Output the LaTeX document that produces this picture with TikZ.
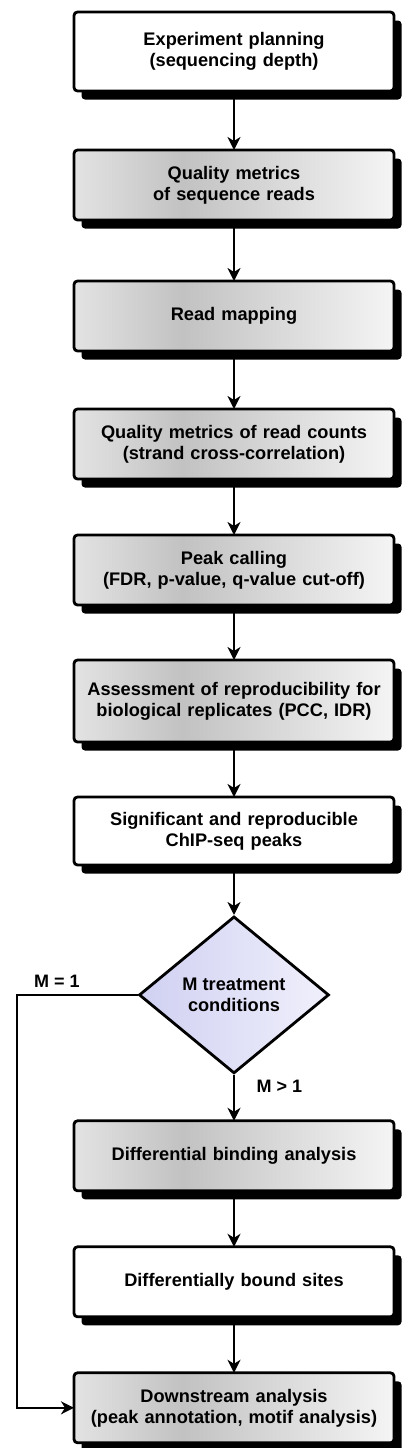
\documentclass[tikz,border=0pt]{standalone}
\usepackage{fontspec}
\setmainfont{Liberation Sans}
\usetikzlibrary{positioning,shapes.geometric,shadows,arrows.meta}

\definecolor{diamondleft}{RGB}{208,208,242}
\definecolor{diamondmid}{RGB}{186,186,244}
\definecolor{diamondright}{RGB}{240,240,252}
\pgfdeclarehorizontalshading{stepshade}{100bp}{%
  color(0bp)=(black!11); color(25bp)=(black!11);
  color(42bp)=(black!24); color(75bp)=(black!4); color(100bp)=(black!4)}

\begin{document}
\begin{tikzpicture}[
  x=1pt, y=1pt,
  node distance=57pt,
  stepbox/.style={
    rectangle,
    rounded corners=3.5pt,
    line width=2.8pt,
    draw=black,
    text width=310pt,
    minimum width=320pt,
    minimum height=70pt,
    inner sep=3pt,
    outer sep=0pt,
    text centered,
    font=\bfseries\fontsize{18.2}{21}\selectfont,
    drop shadow={shadow xshift=7.5pt, shadow yshift=-8.5pt, opacity=1, fill=black}
  },
  plainbox/.style ={stepbox, fill=white},
  shadedbox/.style={stepbox, shading=stepshade},
  decision/.style={
    diamond,
    line width=2.8pt,
    draw=black,
    aspect=1.2,
    inner sep=0pt,
    minimum width=190pt,
    minimum height=157pt,
    align=center,
    left color=diamondleft,
    middle color=diamondmid,
    right color=diamondright,
    font=\bfseries\fontsize{18.2}{21}\selectfont
  },
  flow/.style={line width=2.4pt, -{Stealth[length=13pt,width=13pt,inset=4pt]}},
  cond/.style={font=\bfseries\fontsize{18}{21}\selectfont}]
  \useasboundingbox (0,0) rectangle (410,-1448);
  % main column
  \node[plainbox, minimum height=79pt] (planning) at (234,-51.5) {Experiment planning\\(sequencing depth)};
  \node[shadedbox] (seqreads) [below=59pt of planning] {Quality metrics\\of sequence reads};
  \node[shadedbox] (mapping) [below=61pt of seqreads] {Read mapping};
  \node[shadedbox] (readcounts) [below=58pt of mapping] {Quality metrics of read counts\\(strand cross-correlation)};
  \node[shadedbox] (peakcall) [below=56pt of readcounts] {Peak calling\\(FDR, p-value, q-value cut-off)};
  \node[shadedbox, minimum height=82pt] (reprod) [below=55pt of peakcall] {Assessment of reproducibility for\\biological replicates (PCC, IDR)};
  \node[plainbox, minimum height=68pt] (peaks) [below=55pt of reprod] {Significant and reproducible\\ChIP-seq peaks};
  \node[decision] (conditions) [below=50pt of peaks] {M treatment\\conditions};
  \node[shadedbox] (diffbind) [below=46pt of conditions] {Differential binding analysis};
  \node[plainbox] (diffsites) [below=56pt of diffbind] {Differentially bound sites};
  \node[shadedbox] (downstream) [below=56pt of diffsites] {Downstream analysis\\(peak annotation, motif analysis)};
  % connectors
  \draw[flow] (planning) -- (seqreads);
  \draw[flow] (seqreads) -- (mapping);
  \draw[flow] (mapping) -- (readcounts);
  \draw[flow] (readcounts) -- (peakcall);
  \draw[flow] (peakcall) -- (reprod);
  \draw[flow] (reprod) -- (peaks);
  \draw[flow] (peaks) -- (conditions);
  \draw[flow] (conditions) -- node[cond, right=18pt, pos=0.25] (morecond) {M > 1} (diffbind);
  \draw[flow] (diffbind) -- (diffsites);
  \draw[flow] (diffsites) -- (downstream);
  \coordinate (bypass) at (17,0);
  \draw[flow] (conditions.west) -- node[cond, above=3pt, pos=0.67] (onecond) {M = 1} (bypass |- conditions.west)
    -- (bypass |- downstream.west) -- (downstream.west);
\end{tikzpicture}
\end{document}
